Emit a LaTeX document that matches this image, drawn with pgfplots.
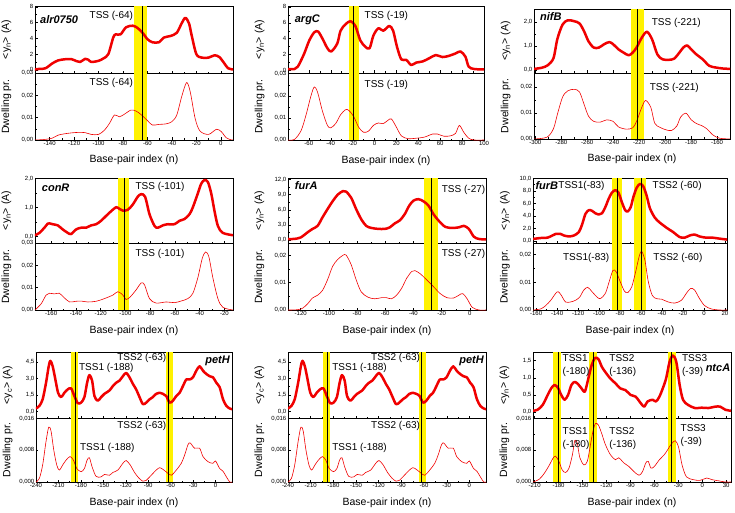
\documentclass[border=0pt]{standalone}
\usepackage{fontspec}
\setmainfont{Liberation Sans}
\usepackage{pgfplots}
\usepackage{pgfplotstable}
\pgfplotsset{compat=1.18}

\definecolor{curve}{RGB}{240,0,0}

\pgfplotsset{
  panel/.style={
    scale only axis, axis line style={line width=0.5pt},
    tick align=inside, xtick pos=bottom, ytick pos=left,
    major tick length=2.5pt, minor tick length=1.5pt,
    minor x tick num=1, minor y tick num=1,
    scaled y ticks=false, scaled x ticks=false,
    tick style={black, line width=0.4pt},
    ticklabel style={font=\fontsize{6}{7}\selectfont, inner sep=1.5pt},
    label style={font=\fontsize{10.5}{12}\selectfont},
    ylabel style={at={(axis description cs:-0.102,0.5)}, anchor=south},
  },
  toppanel/.style={panel, xticklabels={}, ylabel={<y\textsubscript{n}> (A)}},
  botpanel/.style={panel, ylabel={Dwelling pr.}, xlabel={Base-pair index (n)},
    xlabel style={at={(axis description cs:0.5,0)}, anchor=base, yshift=-23pt}},
  dots/.style={curve, line width=2.5pt, smooth, line cap=round, line join=round},
  thin/.style={curve, line width=0.6pt, smooth},
}

\newcommand{\band}[2]{\fill[yellow] ({axis cs:#1,0}|-{rel axis cs:0,0}) rectangle ({axis cs:#2,0}|-{rel axis cs:0,1});}
\newcommand{\tss}[1]{\draw[black, line width=0.8pt] ({axis cs:#1,0}|-{rel axis cs:0,0}) -- ({axis cs:#1,0}|-{rel axis cs:0,1});}
\newcommand{\lab}[4][west]{\node[anchor=#1, font=\fontsize{10}{13}\selectfont, inner sep=0pt, align=left] at (rel axis cs:#2,#3) {#4};}
\newcommand{\gene}[4][west]{\node[anchor=#1, font=\fontsize{11}{13}\selectfont\bfseries\itshape, inner sep=0pt] at (rel axis cs:#2,#3) {#4};}

% ---------------- data ----------------
\pgfplotstableread{
x y
-152 0.05
-150 0.1
-143.5 0.2
-138 0.8
-133 1.2
-127 1.35
-122 1.35
-118 1.1
-115 1.0
-111 1.4
-108.5 1.3
-106 1.0
-100 1.15
-96 1.45
-92 2.0
-88 4.1
-86 4.5
-82 4.5
-77.5 5.4
-72 5.6
-68 5.3
-64 4.7
-60 3.9
-56 3.5
-50.5 3.5
-46.5 4.1
-41 4.3
-36 4.7
-32 5.9
-29 6.6
-26 5.9
-24 4.5
-20 2.0
-15.5 1.55
-10 1.55
-5 1.85
-1 1.6
3 0.8
6 0.2
10 0.05
}\alrtop
\pgfplotstableread{
x y
-152 0
-145 0.0002
-138 0.0008
-133 0.0022
-125 0.003
-117 0.0034
-111 0.0033
-106 0.0025
-100 0.0025
-95 0.0045
-91 0.0075
-87 0.0112
-83 0.0104
-79 0.0115
-73.5 0.0134
-69.5 0.013
-65.5 0.0115
-60 0.0087
-56 0.0067
-50.5 0.007
-45 0.0072
-40 0.0082
-36 0.0112
-32 0.0194
-28 0.0257
-25 0.0216
-21 0.0097
-17 0.004
-10 0.0025
-3.5 0.0048
0.5 0.0037
4.5 0.001
9 0
10 0
}\alrbot
\pgfplotstableread{
x y
-79 0.2
-73 0.2
-70 0.5
-67 1.3
-64 2.2
-59.5 3.8
-55 4.8
-51.5 4.9
-47.5 4.0
-43 2.8
-39.5 2.4
-34 3.4
-31 5.0
-26.5 5.8
-22 6.2
-17.5 5.6
-13 3.8
-8.5 3.0
-4.5 2.8
-1 4.4
3.5 5.3
8 5.0
13.5 5.6
17 5.0
20.5 3.0
24.5 1.4
29 1.35
33.5 0.7
38 1.0
44 1.15
50 1.55
56 1.95
62 1.7
68 1.85
74 2.15
78.5 2.4
83 1.75
86 0.5
91 0.2
100 0.15
}\argtop
\pgfplotstableread{
x y
-79 0
-73 0.0003
-67 0.0043
-62.5 0.0114
-58 0.02
-55 0.024
-52 0.0216
-47.5 0.013
-43 0.0066
-40 0.0055
-35.5 0.0074
-31 0.0114
-26.5 0.0137
-23.5 0.0134
-19 0.0106
-14.5 0.0058
-10 0.0035
-5.5 0.004
-1 0.0066
3.5 0.0077
8 0.0074
12.5 0.009
15.5 0.0095
20 0.0058
24.5 0.0019
30.5 0.0006
38 0.0008
45.5 0.0013
53 0.0027
57.5 0.0027
63.5 0.0017
69.5 0.0019
74 0.003
77.5 0.0066
81.5 0.0035
86 0.0008
91 0
100 0
}\argbot
\pgfplotstableread{
x y
-301 0.05
-295 0.1
-290.5 0.2
-286 0.5
-283 1.3
-279 1.9
-275 2.08
-270 2.04
-266 1.95
-262.5 1.63
-259 1.2
-255 0.94
-251 0.94
-247 1.08
-243 1.17
-240 1.08
-236 0.87
-232 0.73
-228 0.62
-225 0.73
-222 0.94
-218 1.35
-214 1.6
-210 1.28
-206 0.66
-202 0.45
-197 0.43
-193 0.48
-189 0.73
-186 0.94
-183 1.03
-180 0.87
-176 0.66
-171 0.45
-166 0.18
-161 0.11
-156 0.07
-150 0.05
}\niftop
\pgfplotstableread{
x y
-301 0
-291 0.0007
-286 0.004
-283 0.0095
-279 0.0162
-275 0.0186
-270 0.0192
-266 0.0182
-262.5 0.0135
-259 0.0088
-255 0.0068
-250 0.0065
-245 0.0074
-240 0.0068
-236 0.0047
-230 0.0038
-225 0.0043
-222 0.0068
-218 0.0122
-215 0.0149
-211 0.0122
-208 0.0061
-204 0.0045
-199 0.0035
-195 0.0033
-191 0.005
-188 0.0085
-184 0.01
-180 0.0075
-176 0.006
-172 0.0052
-168 0.004
-163 0.0015
-158 0.0003
-150 0
}\nifbot
\pgfplotstableread{
x y
-173 0.04
-169.4 0.12
-165.4 0.3
-162.7 0.44
-161.3 0.45
-158.7 0.42
-154.6 0.38
-150.6 0.24
-146.5 0.12
-143.8 0.08
-139.8 0.24
-135.7 0.3
-131.7 0.3
-127.7 0.38
-123.6 0.42
-119.6 0.54
-115.5 0.71
-111.5 0.87
-107.4 1.01
-104.7 0.95
-102 0.89
-98 0.92
-94 1.1
-90 1.37
-87.2 1.46
-84 1.37
-80.5 0.77
-76.4 0.36
-73.7 0.3
-69.7 0.38
-65.7 0.42
-60.3 0.42
-56.2 0.54
-52.2 0.6
-48.1 0.77
-45.4 1.01
-41.4 1.49
-38.7 1.82
-36 1.95
-33.3 1.88
-30.6 1.49
-28 0.89
-25.2 0.36
-21.2 0.12
-13 0.04
}\contop
\pgfplotstableread{
x y
-173 0
-168 0.0028
-164 0.0067
-161.3 0.0075
-157.3 0.0072
-153.3 0.0075
-149.2 0.0054
-145 0.0036
-140 0.0039
-135.7 0.004
-130.4 0.0036
-123.6 0.0039
-116.9 0.0051
-110 0.0067
-106 0.0082
-102 0.0067
-99.4 0.0047
-96 0.0059
-91.3 0.009
-87.2 0.0121
-84.5 0.0113
-80.5 0.0051
-75.1 0.0031
-67 0.0036
-60.3 0.0033
-55 0.004
-49.5 0.0051
-45.4 0.0075
-41.4 0.0145
-37.9 0.023
-35.2 0.026
-32.5 0.0238
-29.3 0.0145
-25.2 0.0051
-21.2 0.0012
-13 0
}\conbot
\pgfplotstableread{
x y
-129 0.2
-124.8 0.2
-120 0.5
-115.2 1.5
-111.6 2.2
-108 2.8
-104.5 4.5
-101 6.1
-97.3 7.7
-93.7 9.0
-90 9.7
-87.8 9.6
-84.2 8.4
-80.6 6.1
-77 4.1
-73.5 2.8
-70 2.4
-65 2.2
-60.3 2.2
-56.8 2.5
-53.2 3.3
-49.6 3.9
-46 5.2
-43 6.8
-40 7.8
-36.5 8.1
-33 7.7
-29.3 6.8
-25.7 5.1
-22 3.8
-17.4 2.6
-12.6 2.4
-7.8 2.5
-4.2 2.8
-0.7 2.2
2.9 0.65
6.5 0.2
11.5 0.1
}\furAtop
\pgfplotstableread{
x y
-129 0
-122.4 0.0001
-118.8 0.0006
-115.2 0.0022
-111.6 0.0044
-108 0.0054
-104.5 0.0072
-101 0.011
-97.3 0.016
-93.7 0.0185
-90 0.02
-87.8 0.0201
-84.2 0.0166
-80.6 0.011
-77 0.0066
-72.3 0.0047
-67.5 0.0041
-62.7 0.0045
-59.1 0.0045
-55.6 0.0041
-52 0.0054
-48.4 0.0079
-44.8 0.0116
-41.2 0.0141
-38.9 0.0144
-35.3 0.0133
-30.5 0.011
-25.7 0.0085
-21 0.006
-16.2 0.0045
-11.4 0.0044
-7.8 0.0054
-5 0.006
-1.9 0.0041
1.7 0.001
6.5 0
11.5 0
}\furAbot
\pgfplotstableread{
x y
-163 0.3
-155.6 0.45
-149.3 0.5
-144.5 0.85
-141.4 1.1
-136.7 1.1
-133.5 0.85
-128.8 0.7
-124 0.85
-119.3 1.4
-116.2 2.6
-113 4.3
-109.8 4.9
-106.7 4.8
-103.5 4.4
-100.4 4.2
-97.2 4.4
-94 5.4
-90.9 6.7
-87.8 7.7
-84.6 8.1
-81.5 7.7
-78.3 6.2
-75.1 4.9
-72.6 4.7
-69.8 5.4
-67.3 7.0
-64.1 8.5
-60.9 9.1
-57.8 8.7
-54.6 7.2
-51.5 5.2
-46.8 3.7
-42 2.9
-35.7 2.1
-29.4 1.4
-23.1 0.6
-18.4 0.5
-13.6 0.85
-8.9 1.0
-4.2 0.7
2.1 0.5
8.5 0.5
14.8 0.35
22 0.2
}\furBtop
\pgfplotstableread{
x y
-163 0
-155.6 0.0004
-150.9 0.0016
-146.1 0.0035
-141.4 0.006
-138.9 0.0066
-136 0.0053
-132 0.0029
-127.2 0.0029
-122.5 0.0035
-118.4 0.0047
-114.6 0.0072
-110.8 0.0082
-106.7 0.0066
-102 0.0047
-98.8 0.0041
-94 0.006
-90.3 0.0103
-86.8 0.0143
-83.7 0.0138
-79.9 0.0103
-75.8 0.0068
-72.6 0.0063
-68.8 0.0084
-65 0.014
-61.6 0.0196
-59.4 0.0212
-56.2 0.0178
-53.1 0.0103
-49.3 0.0053
-45.2 0.0041
-40.4 0.0039
-34.1 0.0029
-27.8 0.0025
-21.5 0.0035
-16.8 0.006
-12.7 0.0078
-8.9 0.0072
-4.2 0.0041
0.6 0.0016
6.9 0.0004
14.8 0
22 0
}\furBbot
\pgfplotstableread{
x y
-240 0.27
-235.5 0.5
-231.1 1.1
-226.6 2.6
-223 4.1
-220.8 4.6
-217.7 4.1
-214.1 2.9
-210.5 1.7
-206.5 1.3
-202 1.7
-197.6 2.0
-193.1 2.1
-188.7 1.4
-184.2 0.75
-179.7 0.8
-175.3 1.3
-171.7 2.6
-168.6 3.3
-165 2.8
-161.9 1.4
-157.4 0.97
-152.9 1.3
-148.5 1.6
-141.8 1.9
-137.3 2.3
-132.9 2.6
-128.4 2.8
-123.9 3.2
-119.5 3.5
-115 3.1
-110.5 2.5
-106.1 2.0
-101.6 1.3
-97.1 0.66
-92.7 0.8
-88.2 1.1
-83.8 1.3
-79.3 1.6
-74.8 1.7
-70.4 1.6
-65.9 1.4
-61.4 0.8
-57 0.97
-52.5 1.4
-48 1.7
-43.6 2.3
-39.1 2.9
-34.6 2.9
-30.2 3.1
-25.7 3.7
-21.3 4.1
-16.8 3.7
-12.3 3.4
-7.9 3.2
-3.4 3.1
1.1 2.6
5.5 2.2
10 1.1
14.5 0.5
18.9 0.27
22 0.2
}\pettop
\pgfplotstableread{
x y
-240 0
-235.5 0.0009
-231.1 0.0043
-226.6 0.0102
-223 0.0138
-219.9 0.0128
-216.3 0.0081
-212.3 0.0043
-208.8 0.003
-204.3 0.0043
-199.8 0.0055
-194.5 0.0064
-190 0.0055
-185.5 0.0034
-179.7 0.0026
-175.3 0.0034
-171.7 0.0055
-168.6 0.0061
-165 0.0038
-159.6 0.0014
-152.9 0.0013
-148.5 0.0019
-141.8 0.0017
-137.3 0.0024
-130.6 0.003
-123.9 0.0047
-119.5 0.0054
-114.1 0.0043
-108.3 0.0024
-102.5 0.001
-97.1 0.0002
-92.7 0.0004
-86 0.0017
-79.3 0.003
-74.8 0.0036
-70.4 0.0032
-65 0.0024
-59.2 0.0017
-52.5 0.003
-45.8 0.0047
-41.3 0.0068
-36.8 0.0094
-33.8 0.0098
-28 0.0085
-21.3 0.0085
-16.8 0.0064
-10 0.0051
-3.4 0.0047
0 0.0053
5.5 0.0034
10 0.0027
14.5 0.0013
19 0
22 0
}\petbot
\pgfplotstableread{
x y
-212 0.04
-206.3 0.07
-199.9 0.21
-193.6 0.5
-189.3 0.69
-185.1 0.79
-180.8 0.71
-176.6 0.5
-172.4 0.36
-168.1 0.5
-163.9 0.79
-159.7 0.88
-155.4 0.81
-151.2 0.69
-147 0.6
-142.7 0.98
-138.5 1.37
-134.2 1.58
-130 1.54
-125.8 1.32
-121.5 1.17
-115.2 0.98
-108.8 0.84
-102.5 0.69
-96.1 0.64
-89.7 0.5
-83.4 0.45
-77 0.26
-72.8 0.16
-68.6 0.31
-62.2 0.36
-58 0.31
-53.7 0.45
-49.5 0.69
-45.3 0.98
-41 1.46
-36.8 1.65
-32.5 1.46
-28.3 0.79
-24.1 0.36
-17.7 0.21
-9.2 0.12
-0.8 0.13
7.7 0.12
16.2 0.16
22.5 0.16
28.9 0.07
36 0.04
}\ntctop
\pgfplotstableread{
x y
-212 0
-204.2 0.0007
-197.8 0.0022
-191.4 0.0043
-187.2 0.0059
-183.8 0.0065
-179.6 0.0052
-175.3 0.003
-171.1 0.0024
-166.9 0.0035
-162.6 0.0069
-159.7 0.0104
-156.7 0.0099
-153.3 0.0061
-148.2 0.0043
-144 0.0052
-140.6 0.0087
-137.2 0.0125
-133.8 0.0147
-130 0.0143
-125.8 0.0121
-121.5 0.0095
-115.2 0.0069
-108.8 0.0056
-104.6 0.0061
-98.2 0.0048
-91.9 0.0039
-85.5 0.0026
-79.2 0.0017
-74.9 0.0026
-70.7 0.0048
-67.7 0.0052
-64.3 0.0035
-60.1 0.0039
-53.7 0.0056
-47.4 0.0069
-43.1 0.0082
-38.9 0.0095
-33.8 0.0104
-29.6 0.0087
-25.3 0.0043
-19.8 0.0013
-11.4 0.0006
-2.9 0.0004
5.6 0.001
11.9 0.0006
20.4 0.0003
28.9 0
36 0
}\ntcbot

\begin{document}
\begin{tikzpicture}
\useasboundingbox (0pt,0pt) rectangle (735pt,512pt);

% ===== alr0750 =====
\begin{axis}[toppanel, at={(35pt,506pt)}, anchor=north west, width=198pt, height=67pt,
  xmin=-152, xmax=10, ymin=-0.4, ymax=8.1,
  xtick={-140,-120,...,0}, ytick={0,2,4,6,8}, yticklabels={0,2,4,6,8}]
\band{-70.8}{-60}
\addplot[dots] table {\alrtop};
\tss{-64}
\gene{0.025}{0.80}{alr0750}
\lab{0.275}{0.85}{TSS (-64)}
\end{axis}
\begin{axis}[botpanel, at={(35pt,439pt)}, anchor=north west, width=198pt, height=67pt,
  xmin=-152, xmax=10, ymin=0, ymax=0.03,
  xtick={-140,-120,...,0}, xticklabels={-140,-120,-100,-80,-60,-40,-20,0},
  ytick={0,0.01,0.02,0.03}, yticklabels={{0,00},{0,01},{0,02},{0,03}}]
\band{-70.8}{-60}
\addplot[thin] table {\alrbot};
\tss{-64}
\lab{0.275}{0.85}{TSS (-64)}
\end{axis}

% ===== argC =====
\begin{axis}[toppanel, at={(288pt,506pt)}, anchor=north west, width=196pt, height=67pt,
  xmin=-79, xmax=100, ymin=-0.3, ymax=8.1,
  xtick={-60,-40,...,100}, ytick={0,2,4,6,8}, yticklabels={0,2,4,6,8}]
\band{-23}{-14}
\addplot[dots] table {\argtop};
\tss{-19}
\gene{0.034}{0.80}{argC}
\lab{0.39}{0.85}{TSS (-19)}
\end{axis}
\begin{axis}[botpanel, at={(288pt,439pt)}, anchor=north west, width=196pt, height=67pt,
  xmin=-79, xmax=100, ymin=0, ymax=0.0303,
  xtick={-60,-40,...,100}, xticklabels={-60,-40,-20,0,20,40,60,80,100},
  ytick={0,0.01,0.02,0.03}, yticklabels={{0,00},{0,01},{0,02},{0,03}}]
\band{-23}{-14}
\addplot[thin] table {\argbot};
\tss{-19}
\lab{0.39}{0.82}{TSS (-19)}
\end{axis}

% ===== nifB =====
\begin{axis}[toppanel, at={(534pt,503pt)}, anchor=north west, width=196pt, height=64pt,
  xmin=-301, xmax=-150, ymin=-0.12, ymax=2.55,
  xtick={-300,-280,...,-160}, ytick={0,1,2}, yticklabels={{0,0},{1,0},{2,0}}]
\band{-226}{-216.5}
\addplot[dots] table {\niftop};
\tss{-221}
\gene{0.03}{0.89}{nifB}
\lab{0.6}{0.78}{TSS (-221)}
\end{axis}
\begin{axis}[botpanel, at={(534pt,439pt)}, anchor=north west, width=196pt, height=66pt,
  xmin=-301, xmax=-150, ymin=0, ymax=0.0255,
  xtick={-300,-280,...,-160}, xticklabels={-300,-280,-260,-240,-220,-200,-180,-160},
  ytick={0,0.01,0.02}, yticklabels={{0,00},{0,01},{0,02}}]
\band{-226}{-216.5}
\addplot[thin] table {\nifbot};
\tss{-221}
\lab{0.59}{0.78}{TSS (-221)}
\end{axis}

% ===== conR =====
\begin{axis}[toppanel, at={(35pt,334pt)}, anchor=north west, width=198pt, height=65pt,
  xmin=-173, xmax=-13, ymin=-0.23, ymax=2.02,
  xtick={-160,-140,...,-20}, ytick={0,1,2}, yticklabels={{0,0},{1,0},{2,0}}]
\band{-106}{-96.7}
\addplot[dots] table {\contop};
\tss{-101}
\gene{0.034}{0.85}{conR}
\lab{0.507}{0.87}{TSS (-101)}
\end{axis}
\begin{axis}[botpanel, at={(35pt,269pt)}, anchor=north west, width=198pt, height=67pt,
  xmin=-173, xmax=-13, ymin=0, ymax=0.03,
  xtick={-160,-140,...,-20}, xticklabels={-160,-140,-120,-100,-80,-60,-40,-20},
  ytick={0,0.01,0.02,0.03}, yticklabels={{0,00},{0,01},{0,02},{0,03}}]
\band{-106}{-96.7}
\addplot[thin] table {\conbot};
\tss{-101}
\lab{0.507}{0.83}{TSS (-101)}
\end{axis}

% ===== furA =====
\begin{axis}[toppanel, at={(288pt,334pt)}, anchor=north west, width=198pt, height=65pt,
  xmin=-129, xmax=11.5, ymin=-0.6, ymax=12.3,
  xtick={-120,-100,...,0}, ytick={0,3,6,9,12}, yticklabels={{0,0},{3,0},{6,0},{9,0},{12,0}}]
\band{-32.2}{-22.6}
\addplot[dots] table {\furAtop};
\tss{-27}
\gene{0.034}{0.88}{furA}
\lab[east]{0.997}{0.82}{TSS (-27)}
\end{axis}
\begin{axis}[botpanel, at={(288pt,269pt)}, anchor=north west, width=198pt, height=67pt,
  xmin=-129, xmax=11.5, ymin=0, ymax=0.0245,
  xtick={-120,-100,...,0}, xticklabels={-120,-100,-80,-60,-40,-20,0},
  ytick={0,0.01,0.02}, yticklabels={{0,00},{0,01},{0,02}}]
\band{-32.2}{-22.6}
\addplot[thin] table {\furAbot};
\tss{-27}
\lab[east]{0.997}{0.83}{TSS (-27)}
\end{axis}

% ===== furB =====
\begin{axis}[toppanel, at={(533pt,334pt)}, anchor=north west, width=194pt, height=65pt,
  xmin=-163, xmax=22, ymin=-0.35, ymax=10.05,
  xtick={-160,-140,...,20}, ytick={0,2,4,6,8,10}, yticklabels={{0,0},{2,0},{4,0},{6,0},{8,0},{10,0}}]
\band{-87.8}{-77.7}
\band{-66.3}{-55.6}
\addplot[dots] table {\furBtop};
\tss{-83}
\tss{-60}
\gene{0.012}{0.88}{furB}
\lab{0.13}{0.88}{TSS1(-83)}
\lab{0.616}{0.88}{TSS2 (-60)}
\end{axis}
\begin{axis}[botpanel, at={(533pt,269pt)}, anchor=north west, width=194pt, height=67pt,
  xmin=-163, xmax=22, ymin=0, ymax=0.0242,
  xtick={-160,-140,...,20}, xticklabels={-160,-140,-120,-100,-80,-60,-40,-20,0,20},
  ytick={0,0.01,0.02}, yticklabels={{0,00},{0,01},{0,02}}]
\band{-87.8}{-77.7}
\band{-66.3}{-55.6}
\addplot[thin] table {\furBbot};
\tss{-83}
\tss{-60}
\lab{0.154}{0.78}{TSS1(-83)}
\lab{0.62}{0.78}{TSS2 (-60)}
\end{axis}

% ===== petH (left) =====
\begin{axis}[toppanel, ylabel={<y\textsubscript{c}> (A)}, at={(36pt,160pt)}, anchor=north west, width=196pt, height=66pt,
  xmin=-240, xmax=22, ymin=-0.6, ymax=5.4,
  xtick={-240,-210,...,0}, ytick={0,1.5,3,4.5}, yticklabels={{0,0},{1,5},{3,0},{4,5}}]
\band{-193.1}{-184.2}
\band{-66.8}{-57}
\addplot[dots] table {\pettop};
\tss{-188}
\tss{-63}
\gene[east]{0.99}{0.86}{petH}
\lab{0.414}{0.91}{TSS2 (-63)}
\lab{0.219}{0.76}{TSS1 (-188)}
\end{axis}
\begin{axis}[botpanel, at={(36pt,94pt)}, anchor=north west, width=196pt, height=64pt,
  xmin=-240, xmax=22, ymin=0, ymax=0.0161,
  xtick={-240,-210,...,0}, xticklabels={-240,-210,-180,-150,-120,-90,-60,-30,0},
  ytick={0,0.008,0.016}, yticklabels={{0,000},{0,008},{0,016}}]
\band{-193.1}{-184.2}
\band{-66.8}{-57}
\addplot[thin] table {\petbot};
\tss{-188}
\tss{-63}
\lab{0.414}{0.87}{TSS2 (-63)}
\lab{0.224}{0.53}{TSS1 (-188)}
\end{axis}

% ===== petH (middle) =====
\begin{axis}[toppanel, ylabel={<y\textsubscript{c}> (A)}, at={(288pt,160pt)}, anchor=north west, width=198pt, height=66pt,
  xmin=-240, xmax=22, ymin=-0.6, ymax=5.4,
  xtick={-240,-210,...,0}, ytick={0,1.5,3,4.5}, yticklabels={{0,0},{1,5},{3,0},{4,5}}]
\band{-193.1}{-184.2}
\band{-66.8}{-57}
\addplot[dots] table {\pettop};
\tss{-188}
\tss{-63}
\gene[east]{0.99}{0.86}{petH}
\lab{0.419}{0.91}{TSS2 (-63)}
\lab{0.223}{0.76}{TSS1 (-188)}
\end{axis}
\begin{axis}[botpanel, at={(288pt,94pt)}, anchor=north west, width=198pt, height=64pt,
  xmin=-240, xmax=22, ymin=0, ymax=0.0161,
  xtick={-240,-210,...,0}, xticklabels={-240,-210,-180,-150,-120,-90,-60,-30,0},
  ytick={0,0.008,0.016}, yticklabels={{0,000},{0,008},{0,016}}]
\band{-193.1}{-184.2}
\band{-66.8}{-57}
\addplot[thin] table {\petbot};
\tss{-188}
\tss{-63}
\lab{0.419}{0.87}{TSS2 (-63)}
\lab{0.223}{0.53}{TSS1 (-188)}
\end{axis}

% ===== ntcA =====
\begin{axis}[toppanel, at={(533pt,160pt)}, anchor=north west, width=198pt, height=66pt,
  xmin=-212, xmax=36, ymin=-0.17, ymax=1.75,
  xtick={-210,-180,...,30}, ytick={0,0.5,1,1.5}, yticklabels={{0,0},{0,5},{1,0},{1,5}}]
\band{-186.4}{-176.6}
\band{-141.4}{-131.3}
\band{-43}{-32.5}
\addplot[dots] table {\ntctop};
\tss{-180}
\tss{-136}
\tss{-39}
\lab{0.149}{0.80}{TSS1\\(-180)}
\lab{0.385}{0.80}{TSS2\\(-136)}
\lab{0.752}{0.80}{TSS3\\(-39)}
\gene[east]{0.997}{0.76}{ntcA}
\end{axis}
\begin{axis}[botpanel, at={(533pt,94pt)}, anchor=north west, width=198pt, height=64pt,
  xmin=-212, xmax=36, ymin=0, ymax=0.0161,
  xtick={-210,-180,...,30}, xticklabels={-210,-180,-150,-120,-90,-60,-30,0,30},
  ytick={0,0.008,0.016}, yticklabels={{0,000},{0,008},{0,016}}]
\band{-186.4}{-176.6}
\band{-141.4}{-131.3}
\band{-43}{-32.5}
\addplot[thin] table {\ntcbot};
\tss{-180}
\tss{-136}
\tss{-39}
\lab{0.149}{0.685}{TSS1\\(-180)}
\lab{0.385}{0.685}{TSS2\\(-136)}
\lab{0.745}{0.73}{TSS3\\(-39)}
\end{axis}
\end{tikzpicture}
\end{document}
